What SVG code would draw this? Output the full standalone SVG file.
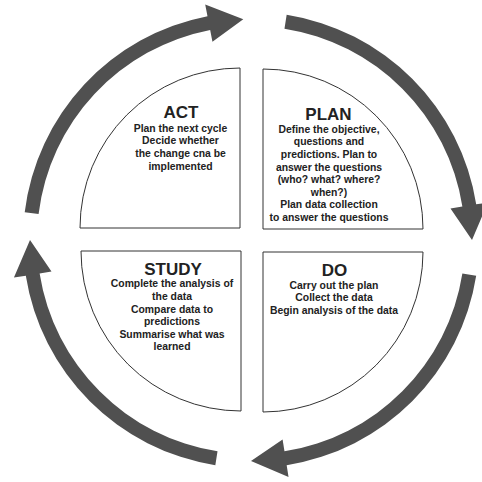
<svg xmlns="http://www.w3.org/2000/svg" width="482" height="482" viewBox="0 0 482 482">
<style>
.q{fill:#fff;stroke:#333;stroke-width:1}
.arr{fill:#505050}
text{font-family:"Liberation Sans",Arial,sans-serif;fill:#222;text-anchor:middle;font-weight:700}
.t{font-size:17px}
.b{font-size:10.4px}
</style>
<defs>
<path id="arrow" d="M476.19,275.67 A228,228 0 0 1 286.67,465.19 L288.54,477.05 L251,461 L282.60,439.51 L284.48,451.37 A214,214 0 0 0 462.37,273.48 Z"/>
</defs>
<g id="connectors">
<use href="#arrow" class="arr" transform="rotate(178 251 240)"/>
<use href="#arrow" class="arr" transform="rotate(270 251 240)"/>
<use href="#arrow" class="arr"/>
<use href="#arrow" class="arr" transform="rotate(90 251 240)"/>
</g>
<g id="act">
<path class="q" d="M240,228 L240,68 A160,160 0 0 0 80,228 Z"/>
<text class="t" x="181" y="117.8">ACT</text>
<text class="b" x="180.5" y="131.7">Plan the next cycle</text>
<text class="b" x="180.5" y="144.3">Decide whether</text>
<text class="b" x="180.5" y="156.9">the change cna be</text>
<text class="b" x="180.5" y="169.5">implemented</text>
</g>
<g id="plan">
<path class="q" d="M263,229 L263,69 A160,160 0 0 1 423,229 Z"/>
<text class="t" x="328.5" y="120.2">PLAN</text>
<text class="b" x="329" y="132.7">Define the objective,</text>
<text class="b" x="329" y="145.3">questions and</text>
<text class="b" x="329" y="157.9">predictions. Plan to</text>
<text class="b" x="329" y="170.5">answer the questions</text>
<text class="b" x="329" y="183.1">(who? what? where?</text>
<text class="b" x="329" y="195.7">when?)</text>
<text class="b" x="329" y="208.3">Plan data collection</text>
<text class="b" x="329" y="220.9">to answer the questions</text>
</g>
<g id="study">
<path class="q" d="M241,251 L81,251 A160,160 0 0 0 241,411 Z"/>
<text class="t" x="173" y="275.2">STUDY</text>
<text class="b" x="172" y="287.3">Complete the analysis of</text>
<text class="b" x="172" y="299.9">the data</text>
<text class="b" x="172" y="312.5">Compare data to</text>
<text class="b" x="172" y="325.1">predictions</text>
<text class="b" x="172" y="337.7">Summarise what was</text>
<text class="b" x="172" y="350.3">learned</text>
</g>
<g id="do">
<path class="q" d="M263,252 L423,252 A160,160 0 0 1 263,412 Z"/>
<text class="t" x="334.5" y="275.5">DO</text>
<text class="b" x="334" y="288.7">Carry out the plan</text>
<text class="b" x="334" y="301.3">Collect the data</text>
<text class="b" x="334" y="313.9">Begin analysis of the data</text>
</g>
</svg>
